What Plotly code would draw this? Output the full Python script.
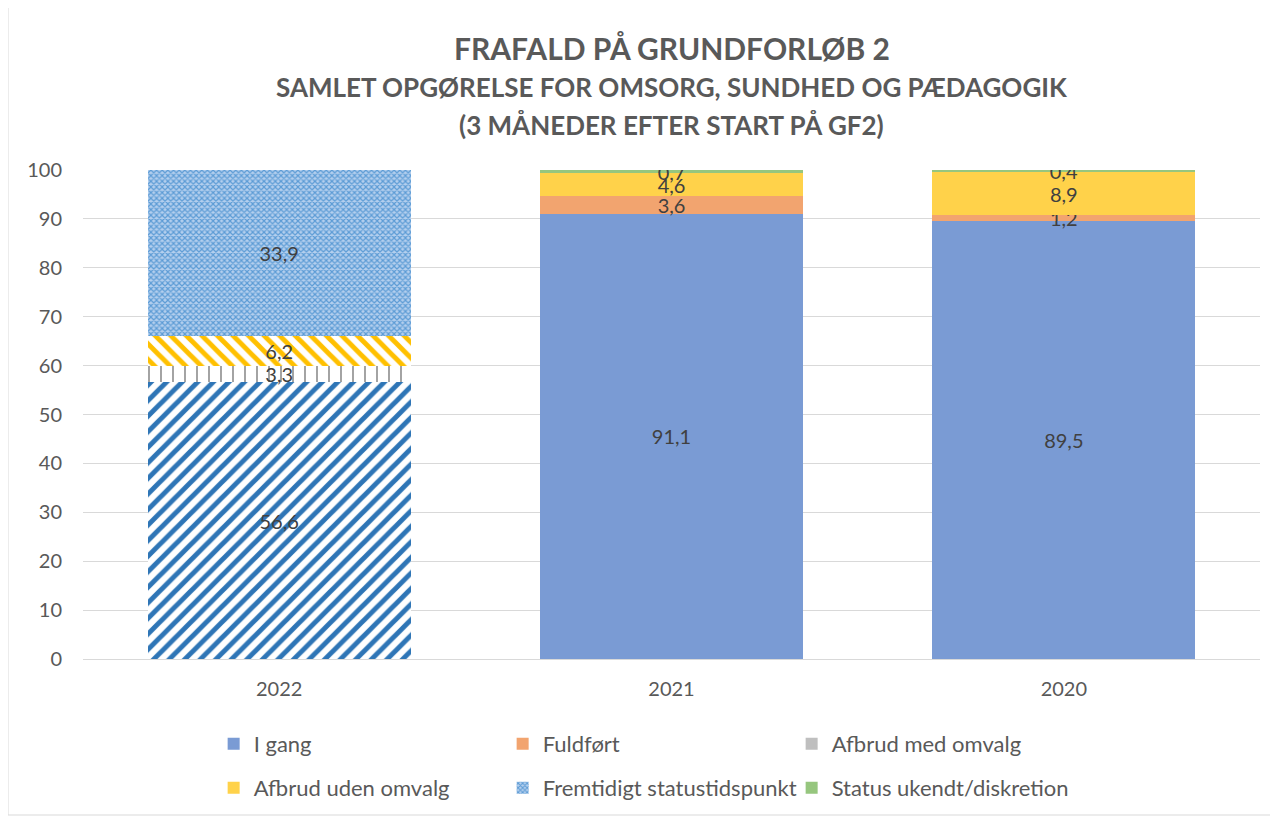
import plotly.graph_objects as go

categories = ["2022", "2021", "2020"]
series_names = ["I gang", "Fuldført", "Afbrud med omvalg", "Afbrud uden omvalg",
                "Fremtidigt statustidspunkt", "Status ukendt/diskretion"]
i_gang = [56.6, 91.1, 89.5]
fuldfort = [0.0, 3.6, 1.2]
afbrud_med = [3.3, 0.0, 0.0]
afbrud_uden = [6.2, 4.6, 8.9]
fremtidigt = [33.9, 0.0, 0.0]
status_ukendt = [0.0, 0.7, 0.4]
y_ticks = [0, 10, 20, 30, 40, 50, 60, 70, 80, 90, 100]

values = [i_gang, fuldfort, afbrud_med, afbrud_uden, fremtidigt, status_ukendt]
solid_colors = ["#7A9BD4", "#F2A46F", "#BFBFBF", "#FFD24A", "#9DC3E6", "#96C67E"]
patterns = [
    dict(shape="/", fgcolor="#2E75B6", bgcolor="white", size=11, solidity=0.45, fillmode="replace"),
    dict(shape="|", fgcolor="#808080", bgcolor="white", size=12, solidity=0.12, fillmode="replace"),
    dict(shape="|", fgcolor="#808080", bgcolor="white", size=12, solidity=0.12, fillmode="replace"),
    dict(shape="\\", fgcolor="#FFC000", bgcolor="white", size=11, solidity=0.45, fillmode="replace"),
    dict(shape="x", fgcolor="#5B9BD5", bgcolor="#B4CFEE", size=4, solidity=0.5, fillmode="replace"),
    dict(shape="", fgcolor="#96C67E", bgcolor="#96C67E", size=8, solidity=0.3, fillmode="replace"),
]
legend_of = ["legend", "legend", "legend", "legend2", "legend2", "legend2"]

def fmt(v):
    return ("%.1f" % v).replace(".", ",") if v > 0 else ""

FONT = "Lato"
TXT = "#404040"
PH = 489.0  # plot height in px
PW = 1177.0

def py(p):
    return (659 - p) / PH

fig = go.Figure()
for k, name in enumerate(series_names):
    vals = values[k]
    if vals[0] > 0:
        fig.add_trace(go.Bar(
            x=categories[:1], y=vals[:1], name=name,
            text=[fmt(v) for v in vals[:1]], texttemplate="%{text}",
            textposition="inside", insidetextanchor="middle", textangle=0,
            textfont=dict(color=TXT, size=20, family=FONT),
            marker=dict(color="white", pattern=patterns[k], line=dict(width=0)),
            showlegend=(k == 4), legend=legend_of[k], legendrank=k + 1,
            hoverinfo="skip"))
    fig.add_trace(go.Bar(
        x=categories[1:], y=vals[1:], name=name,
        text=[fmt(v) for v in vals[1:]], texttemplate="%{text}",
        textposition="inside", insidetextanchor="middle", textangle=0,
        textfont=dict(color=TXT, size=20, family=FONT),
        marker=dict(color=solid_colors[k], line=dict(width=0)),
        showlegend=(k != 4), legend=legend_of[k], legendrank=k + 1,
        hoverinfo="skip"))

legend_common = dict(orientation="h", xanchor="left", yanchor="middle",
                     entrywidth=244, entrywidthmode="pixels",
                     font=dict(family=FONT, size=22, color="#595959"),
                     bgcolor="rgba(0,0,0,0)", itemsizing="constant",
                     traceorder="normal")
fig.update_layout(
    width=1278, height=819,
    paper_bgcolor="white", plot_bgcolor="white",
    margin=dict(l=75, r=26, t=162, b=168),
    barmode="stack", bargap=0.33,
    separators=", ",
    uniformtext=dict(minsize=20, mode="show"),
    font=dict(family=FONT, color="#595959", size=20),
    legend=dict(x=0.111, y=py(744), **legend_common),
    legend2=dict(x=0.111, y=py(788), **legend_common),
    xaxis=dict(type="category", categoryorder="array", categoryarray=categories,
               showline=True, linecolor="#D9D9D9", linewidth=1, ticks="",
               ticklabelstandoff=12,
               tickfont=dict(size=20, color="#595959", family=FONT)),
    yaxis=dict(range=[0, 100], tickvals=y_ticks, showgrid=True, gridcolor="#D9D9D9",
               gridwidth=1, zeroline=False, ticks="", ticklabelstandoff=20,
               tickfont=dict(size=20, color="#595959", family=FONT)),
    annotations=[
        dict(text="<b>FRAFALD PÅ GRUNDFORLØB 2</b>", xref="paper", yref="paper",
             x=0.5, y=py(48), xanchor="center", yanchor="middle", showarrow=False,
             font=dict(size=30, color="#595959", family=FONT)),
        dict(text="<b>SAMLET OPGØRELSE FOR OMSORG, SUNDHED OG PÆDAGOGIK</b>", xref="paper",
             yref="paper", x=0.5, y=py(87), xanchor="center", yanchor="middle",
             showarrow=False, font=dict(size=26, color="#595959", family=FONT)),
        dict(text="<b>(3 MÅNEDER EFTER START PÅ GF2)</b>", xref="paper", yref="paper",
             x=0.5, y=py(125), xanchor="center", yanchor="middle", showarrow=False,
             font=dict(size=26, color="#595959", family=FONT)),
    ],
    shapes=[dict(type="rect", xref="paper", yref="paper",
                 x0=-75 / PW, x1=1 + 12 / PW, y0=py(815), y1=py(5),
                 line=dict(color="#D9D9D9", width=1), fillcolor="rgba(0,0,0,0)")],
)
fig.write_html("out.html")
